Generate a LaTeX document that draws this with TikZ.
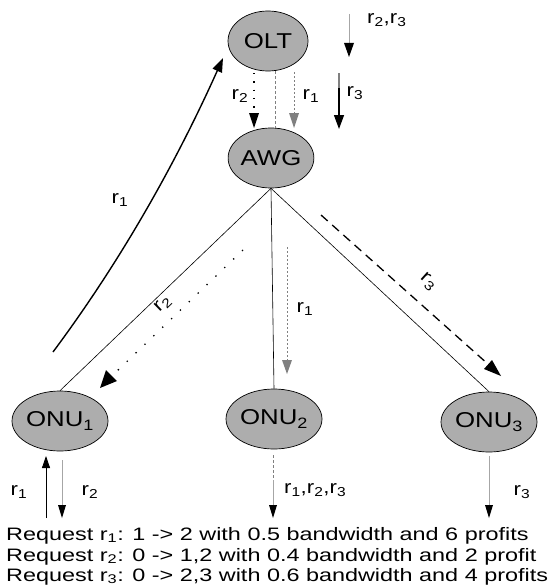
\documentclass[tikz,border=0pt]{standalone}
\usepackage{fontspec}
\setmainfont{Liberation Sans}[FakeStretch=1.2]
\newfontfamily\widefont{Liberation Sans}[FakeStretch=1.3]
\usetikzlibrary{arrows.meta,shapes.geometric}
\newcommand\rsub[1]{r\textsubscript{#1}}
\tikzset{
  unit/.style={ellipse, draw=black, line width=0.7pt, fill=black!32,
    minimum width=96pt, minimum height=60pt, inner sep=0pt,
    font=\fontsize{21.5}{21.5}\selectfont},
  lbl/.style={font=\fontsize{18.5}{18.5}\selectfont, inner sep=0pt},
  bighead/.style={-{Triangle[length=14pt,width=10pt]}},
  smallhead/.style={-{Triangle[length=12pt,width=8pt]}},
  link/.style={line width=0.6pt, black},
  reqline/.style={font=\widefont\fontsize{18}{18}\selectfont, anchor=base west, inner sep=0pt}
}
\begin{document}
\begin{tikzpicture}[x=1pt,y=-1pt]
\useasboundingbox (0,0) rectangle (556,586);

% network elements
\node[unit, minimum width=80pt] (olt) at (268,41) {OLT};
\node[unit, minimum width=80pt] (awg) at (271,158) {AWG};
\node[unit] (onu1) at (60,421) {ONU\textsubscript{1}};
\node[unit] (onu2) at (274,419) {ONU\textsubscript{2}};
\node[unit] (onu3) at (489,422) {ONU\textsubscript{3}};

% fibre links
\draw[link] (awg.south) -- (onu1.north);
\draw[link] (awg.south) -- (onu2.north);
\draw[link] (awg.south) -- (onu3.north);

% OLT -> AWG traffic
\draw[black, line width=1.3pt, dash pattern=on 1.3pt off 7pt] (254,73) -- (254,113);
\fill[black] (254,128) -- (249,113) -- (259,113) -- cycle;
\node[lbl] at (240,96) {\rsub{2}};
\draw[gray, line width=0.8pt, dash pattern=on 3pt off 2pt] (275,71) -- (275,128);
\draw[gray, line width=0.9pt, dash pattern=on 2pt off 2pt] (294,72) -- (294,114);
\fill[gray] (294,128) -- (289,113) -- (299,113) -- cycle;
\node[lbl] at (311,96) {\rsub{1}};
\draw[gray, line width=1.2pt] (339,73) -- (339,88);
\draw[black, line width=1.3pt, bighead] (339,88) -- (339,129);
\node[lbl] at (355,93) {\rsub{3}};

% downstream at the OLT
\draw[gray!70, line width=0.8pt] (349,14) -- (349,44);
\fill[black] (349,57) -- (344,43) -- (354,43) -- cycle;
\node[lbl, anchor=west] at (367,20) {\rsub{2},\rsub{3}};

% r1 upstream from ONU1 to the OLT
\draw[black, line width=1.4pt, bighead] (53,352) .. controls (120,262) and (175,165) .. (223,58);
\node[lbl] at (120,200) {\rsub{1}};

% r2 from AWG to ONU1
\draw[black, line width=1.3pt, dash pattern=on 1.3pt off 11pt] (243,250) -- (115,373);
\fill[black] (100,388) -- (106,370) -- (117,381) -- cycle;
\node[lbl, rotate=44] at (163,304) {\rsub{2}};

% r1 from AWG to ONU2
\draw[gray, line width=1pt, dash pattern=on 2pt off 2pt] (287,247) -- (287,360);
\fill[gray] (287,374) -- (282,360) -- (292,360) -- cycle;
\node[lbl] at (305,309) {\rsub{1}};

% r3 from AWG to ONU3
\draw[black, line width=1.3pt, dash pattern=on 9pt off 6pt] (321,215) -- (489,365);
\fill[black] (501,376) -- (484,369) -- (492,360) -- cycle;
\node[lbl, rotate=-42] at (428,282) {\rsub{3}};

% traffic at the ONUs
\draw[black, line width=0.8pt, smallhead] (46,518) -- (46,456);
\node[lbl] at (19,492) {\rsub{1}};
\draw[gray!70, line width=0.8pt] (62,460) -- (62,506);
\fill[black] (62,518) -- (58,505) -- (66,505) -- cycle;
\node[lbl] at (90,492) {\rsub{2}};
\draw[gray, line width=0.7pt, dash pattern=on 3pt off 2pt] (273,455) -- (273,480);
\draw[gray!70, line width=0.7pt] (273,480) -- (273,506);
\fill[black] (273,518) -- (269,505) -- (277,505) -- cycle;
\node[lbl, anchor=west] at (284,490) {\rsub{1},\rsub{2},\rsub{3}};
\draw[gray!70, line width=0.8pt] (489,456) -- (489,506);
\fill[black] (489,518) -- (485,505) -- (493,505) -- cycle;
\node[lbl] at (522,492) {\rsub{3}};

% request list
\node[reqline] (q1) at (6,540) {Request \rsub{1}: 1 -> 2 with 0.5 bandwidth and 6 profits};
\node[reqline] (q2) at (6,561) {Request \rsub{2}: 0 -> 1,2 with 0.4 bandwidth and 2 profit};
\node[reqline] (q3) at (6,581) {Request \rsub{3}: 0 -> 2,3 with 0.6 bandwidth and 4 profits};
\end{tikzpicture}
\end{document}
